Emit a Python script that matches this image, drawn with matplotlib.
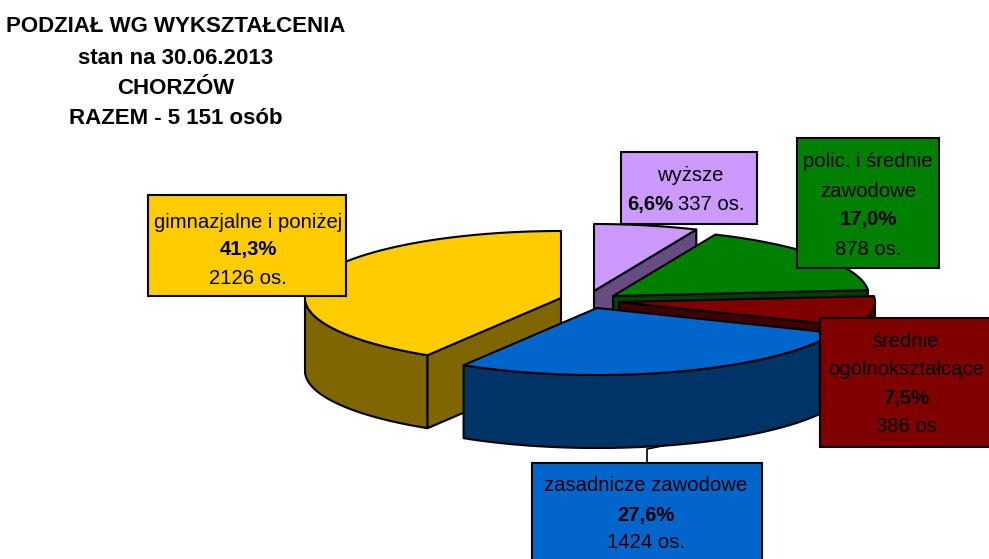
import numpy as np
import matplotlib
matplotlib.use('Agg')
import matplotlib.pyplot as plt

plt.rcParams['font.family'] = ['Liberation Sans', 'DejaVu Sans']

title_lines = ['PODZIAŁ WG WYKSZTAŁCENIA', 'stan na 30.06.2013', 'CHORZÓW', 'RAZEM - 5 151 osób']

# clockwise from 12 o'clock
names = ['wyższe', 'polic. i średnie zawodowe', 'średnie ogólnokształcące', 'zasadnicze zawodowe', 'gimnazjalne i poniżej']
counts = [337, 878, 386, 1424, 2126]
percents = ['6,6%', '17,0%', '7,5%', '27,6%', '41,3%']
count_labels = ['337 os.', '878 os.', '386 os', '1424 os.', '2126 os.']

top_colors = ['#CC99FF', '#008000', '#800000', '#0066CC', '#FFCC00']
side_colors = ['#664C80', '#004000', '#400000', '#003366', '#806600']

# pie geometry in pixels
RX, RY, DEPTH = 256, 67, 73
apexes = [(594, 291), (613, 296), (619, 302), (597, 308), (561, 298)]
draw_order = [0, 1, 2, 4, 3]

# label boxes: left, top, right, bottom
boxes = [(621, 152, 757, 224), (797, 138, 939, 268), (820, 318, 1000, 447),
         (532, 463, 762, 570), (148, 195, 346, 296)]

fig = plt.figure(figsize=(9.89, 5.59), dpi=100)
ax = fig.add_axes([0, 0, 1, 1])
ax.set_xlim(0, 989)
ax.set_ylim(559, 0)
ax.axis('off')


def rim(cx, cy, a, b):
    t = np.radians(np.linspace(a, b, max(int(abs(b - a)) * 2, 2)))
    return cx + RX * np.sin(t), cy - RY * np.cos(t)


def poly(x, y, color):
    ax.fill(x, y, facecolor=color, edgecolor='black', linewidth=1.5, joinstyle='round')


edges = np.concatenate([[0], np.cumsum(counts)]) / sum(counts) * 360

for i in draw_order:
    cx, cy = apexes[i]
    a, b = edges[i], edges[i + 1]

    # front part of the outer wall
    lo, hi = max(a, 90), min(b, 270)
    if lo < hi:
        x, y = rim(cx, cy, lo, hi)
        poly(np.r_[x, x[::-1]], np.r_[y, y[::-1] + DEPTH], side_colors[i])

    # cut faces that look towards the viewer
    for ang, visible in ((a, np.sin(np.radians(a)) < -1e-6), (b, np.sin(np.radians(b)) > 1e-6)):
        if visible:
            ex, ey = rim(cx, cy, ang, ang)
            poly([cx, ex[0], ex[0], cx], [cy, ey[0], ey[0] + DEPTH, cy + DEPTH], side_colors[i])

    x, y = rim(cx, cy, a, b)
    poly(np.r_[cx, x], np.r_[cy, y], top_colors[i])

# leader line of the blue label
ax.plot([667, 647, 647], [445, 449, 463], color='black', linewidth=1.2, zorder=4)

for i, (l, t, r, b) in enumerate(boxes):
    ax.fill([l, r, r, l], [t, t, b, b], facecolor=top_colors[i], edgecolor='black',
            linewidth=1.5, zorder=5)

FS = 14.6
title_y = [27, 58, 88, 118]
for line, y in zip(title_lines, title_y):
    ax.text(176, y, line, ha='center', va='center', fontsize=16, fontweight='bold', zorder=6)


def label(x, y, s, bold=False, ha='center'):
    ax.text(x, y + 1.5, s, ha=ha, va='center', fontsize=FS, fontweight='bold' if bold else 'normal', zorder=6)


# wyższe
label(690, 174, names[0])
label(627, 203, percents[0], True, 'left')
label(678, 203, count_labels[0], False, 'left')

# polic. i średnie zawodowe
label(868, 160, 'polic. i średnie')
label(868, 190, 'zawodowe')
label(868, 218, percents[1], True)
label(868, 248, count_labels[1])

# średnie ogólnokształcące
label(906, 340, 'średnie')
label(906, 368, 'ogólnokształcące')
label(906, 397, percents[2], True)
label(906, 425, count_labels[2])

# zasadnicze zawodowe
label(646, 484, names[3])
label(646, 514, percents[3], True)
label(646, 541, count_labels[3])

# gimnazjalne i poniżej
label(248, 221, names[4])
label(248, 248, percents[4], True)
label(248, 277, count_labels[4])

fig.savefig('out.png', dpi=100, facecolor='white')
